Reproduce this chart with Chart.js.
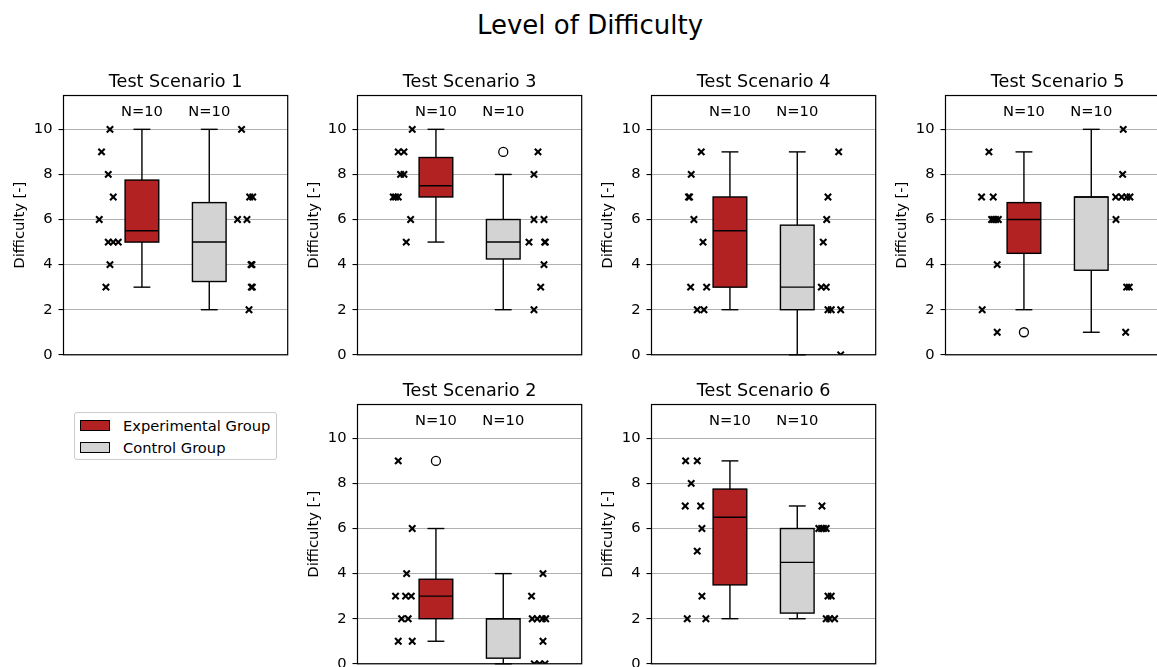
<!DOCTYPE html>
<html lang="en">
<head>
    <meta charset="UTF-8">
    <title>Level of Difficulty</title>
    <script src="https://cdn.jsdelivr.net/npm/chart.js"></script>
    <style>
        body { margin: 0; background: #fff; font-family: 'DejaVu Sans', sans-serif; color: #000; }
        #page { position: relative; width: 1157px; height: 667px; overflow: hidden; background: #fff; }
        #suptitle { position: absolute; left: 0; top: 12px; width: 1180px; text-align: center; font-size: 26px; line-height: 26px; }
        canvas.panel { position: absolute; }
        .legend { position: absolute; left: 74px; top: 412px; width: 203px; height: 48px; box-sizing: border-box;
                  border: 1px solid #cccccc; border-radius: 3px; background: #fff; }
        .legend .item { position: absolute; left: 0; height: 20px; line-height: 20px; font-size: 14.7px; white-space: nowrap; }
        .legend .patch { position: absolute; left: 5px; top: 4px; width: 30px; height: 11px; box-sizing: border-box; border: 1.2px solid #000; }
        .legend .label { position: absolute; left: 48px; top: 0; }
    </style>
</head>
<body>
<div id="page">
    <div id="suptitle">Level of Difficulty</div>

    <canvas class="panel" id="ts1" width="296" height="325" style="left:0px; top:45px"></canvas>
    <canvas class="panel" id="ts3" width="296" height="325" style="left:294px; top:45px"></canvas>
    <canvas class="panel" id="ts4" width="296" height="325" style="left:588px; top:45px"></canvas>
    <canvas class="panel" id="ts5" width="296" height="325" style="left:882px; top:45px"></canvas>
    <canvas class="panel" id="ts2" width="296" height="325" style="left:294px; top:354px"></canvas>
    <canvas class="panel" id="ts6" width="296" height="325" style="left:588px; top:354px"></canvas>

    <div class="legend">
        <div class="item" style="top:3px"><span class="patch" id="patchExp"></span><span class="label" id="labelExp"></span></div>
        <div class="item" style="top:24.5px"><span class="patch" id="patchCtrl"></span><span class="label" id="labelCtrl"></span></div>
    </div>
</div>

<script>
    // groups and axis ticks
    const groups = ['Experimental Group', 'Control Group'];
    const groupColors = ['#b22222', '#d3d3d3'];
    const boxPositions = [1, 2];
    const yTicks = [0, 2, 4, 6, 8, 10];

    // difficulty ratings per scenario, with the jittered x of each dot
    const ts1Exp = [10, 9, 8, 7, 6, 5, 5, 5, 4, 3];
    const ts1ExpX = [0.525, 0.40, 0.50, 0.574, 0.366, 0.50, 0.574, 0.648, 0.525, 0.465];
    const ts1Ctrl = [10, 7, 7, 6, 6, 4, 4, 3, 3, 2];
    const ts1CtrlX = [2.48, 2.60, 2.645, 2.42, 2.56, 2.62, 2.635, 2.625, 2.64, 2.59];

    const ts2Exp = [9, 6, 4, 3, 3, 3, 2, 2, 1, 1];
    const ts2ExpX = [0.44, 0.648, 0.565, 0.40, 0.55, 0.634, 0.49, 0.588, 0.44, 0.648];
    const ts2Ctrl = [4, 3, 2, 2, 2, 2, 1, 0, 0, 0];
    const ts2CtrlX = [2.59, 2.42, 2.43, 2.505, 2.58, 2.63, 2.59, 2.46, 2.54, 2.62];

    const ts3Exp = [10, 9, 9, 8, 8, 7, 7, 7, 6, 5];
    const ts3ExpX = [0.648, 0.44, 0.525, 0.475, 0.525, 0.366, 0.44, 0.40, 0.624, 0.559];
    const ts3Ctrl = [9, 8, 6, 6, 5, 5, 5, 4, 3, 2];
    const ts3CtrlX = [2.516, 2.456, 2.456, 2.605, 2.382, 2.615, 2.625, 2.605, 2.556, 2.456];

    const ts4Exp = [9, 8, 7, 7, 6, 5, 3, 3, 2, 2];
    const ts4ExpX = [0.574, 0.425, 0.385, 0.40, 0.465, 0.60, 0.416, 0.654, 0.514, 0.614];
    const ts4Ctrl = [9, 7, 6, 5, 3, 3, 2, 2, 2, 0];
    const ts4CtrlX = [2.615, 2.456, 2.437, 2.386, 2.357, 2.431, 2.456, 2.505, 2.645, 2.645];

    const ts5Exp = [9, 7, 7, 6, 6, 6, 6, 4, 2, 1];
    const ts5ExpX = [0.48, 0.371, 0.544, 0.52, 0.55, 0.58, 0.62, 0.603, 0.38, 0.603];
    const ts5Ctrl = [10, 8, 7, 7, 7, 7, 6, 3, 3, 1];
    const ts5CtrlX = [2.475, 2.466, 2.363, 2.452, 2.526, 2.575, 2.367, 2.526, 2.565, 2.511];

    const ts6Exp = [9, 9, 8, 7, 7, 6, 5, 3, 2, 2];
    const ts6ExpX = [0.342, 0.514, 0.425, 0.336, 0.565, 0.584, 0.514, 0.584, 0.366, 0.643];
    const ts6Ctrl = [7, 6, 6, 6, 6, 3, 3, 2, 2, 2];
    const ts6CtrlX = [2.367, 2.32, 2.36, 2.39, 2.43, 2.456, 2.505, 2.43, 2.48, 2.555];

    Chart.defaults.font.family = "'DejaVu Sans', sans-serif";
    Chart.defaults.color = '#000';

    const FONT = 14.7;
    const BOX_W = 0.5;

    // linear-interpolated quantile, same as numpy's default
    function quantile(sorted, q) {
        const p = (sorted.length - 1) * q;
        const lo = Math.floor(p), hi = Math.ceil(p);
        return sorted[lo] + (sorted[hi] - sorted[lo]) * (p - lo);
    }

    function boxStats(values) {
        const s = [...values].sort((a, b) => a - b);
        const q1 = quantile(s, 0.25), med = quantile(s, 0.5), q3 = quantile(s, 0.75);
        const iqr = q3 - q1;
        const lo = s.find(v => v >= q1 - 1.5 * iqr);
        const hi = [...s].reverse().find(v => v <= q3 + 1.5 * iqr);
        return { q1, med, q3, lo, hi, n: s.length, outliers: s.filter(v => v < lo || v > hi) };
    }

    // draws whiskers, caps, boxes and medians under the dots, and the frame + N labels on top
    const boxPlugin = {
        id: 'boxes',
        beforeDatasetsDraw(chart, args, opts) {
            const { ctx, scales: { x, y } } = chart;
            ctx.save();
            ctx.strokeStyle = '#000';
            ctx.lineWidth = 1.4;
            const line = (x1, y1, x2, y2) => { ctx.beginPath(); ctx.moveTo(x1, y1); ctx.lineTo(x2, y2); ctx.stroke(); };
            opts.groups.forEach(g => {
                const s = g.stats;
                const xc = x.getPixelForValue(g.pos);
                const xl = x.getPixelForValue(g.pos - BOX_W / 2);
                const xr = x.getPixelForValue(g.pos + BOX_W / 2);
                const cl = x.getPixelForValue(g.pos - BOX_W / 4);
                const cr = x.getPixelForValue(g.pos + BOX_W / 4);
                line(xc, y.getPixelForValue(s.lo), xc, y.getPixelForValue(s.q1));
                line(xc, y.getPixelForValue(s.q3), xc, y.getPixelForValue(s.hi));
                line(cl, y.getPixelForValue(s.lo), cr, y.getPixelForValue(s.lo));
                line(cl, y.getPixelForValue(s.hi), cr, y.getPixelForValue(s.hi));
                const top = y.getPixelForValue(s.q3), bot = y.getPixelForValue(s.q1);
                ctx.fillStyle = g.color;
                ctx.fillRect(xl, top, xr - xl, bot - top);
                ctx.strokeRect(xl, top, xr - xl, bot - top);
                line(xl, y.getPixelForValue(s.med), xr, y.getPixelForValue(s.med));
            });
            ctx.restore();
        },
        afterDraw(chart, args, opts) {
            const { ctx, chartArea: a, scales: { x, y } } = chart;
            ctx.save();
            ctx.strokeStyle = '#000';
            ctx.lineWidth = 1.2;
            ctx.strokeRect(a.left, a.top, a.right - a.left, a.bottom - a.top);
            ctx.fillStyle = '#000';
            ctx.font = FONT + "px 'DejaVu Sans'";
            ctx.textAlign = 'center';
            ctx.textBaseline = 'middle';
            opts.groups.forEach(g => {
                ctx.fillText('N=' + g.stats.n, x.getPixelForValue(g.pos), y.getPixelForValue(10.75));
            });
            ctx.restore();
        }
    };

    function dots(values, xs) {
        return values.map((v, i) => ({ x: xs[i], y: v }));
    }

    function makePanel(id, title, exp, expX, ctrl, ctrlX) {
        const stats = [boxStats(exp), boxStats(ctrl)];
        const outliers = [];
        stats.forEach((s, i) => s.outliers.forEach(v => outliers.push({ x: boxPositions[i], y: v })));

        const dotStyle = { pointStyle: 'crossRot', pointRadius: 4.5, pointBorderWidth: 2.1,
                           pointBorderColor: '#000', pointBackgroundColor: '#000', showLine: false, clip: 0 };

        new Chart(document.getElementById(id), {
            type: 'scatter',
            data: {
                datasets: [
                    Object.assign({ label: groups[0], data: dots(exp, expX) }, dotStyle),
                    Object.assign({ label: groups[1], data: dots(ctrl, ctrlX) }, dotStyle),
                    { label: 'outliers', data: outliers, pointStyle: 'circle', pointRadius: 4.5, pointBorderWidth: 1.3,
                      pointBorderColor: '#000', pointBackgroundColor: 'rgba(0,0,0,0)', clip: 0 }
                ]
            },
            options: {
                responsive: false,
                animation: false,
                events: [],
                layout: { padding: { left: 0, top: 0, right: 8.3, bottom: 15.2 } },
                plugins: {
                    legend: { display: false },
                    tooltip: { enabled: false },
                    title: {
                        display: true, text: title, color: '#000', fullSize: false,
                        font: { size: 17.6, weight: 'normal', lineHeight: 1.2 },
                        padding: { top: 26.6, bottom: 2.8 }
                    },
                    boxes: {
                        groups: stats.map((s, i) => ({ stats: s, pos: boxPositions[i], color: groupColors[i] }))
                    }
                },
                scales: {
                    x: { type: 'linear', min: -0.165, max: 3.165, display: false },
                    y: {
                        type: 'linear', min: 0, max: 11.5,
                        afterBuildTicks: scale => { scale.ticks = yTicks.map(v => ({ value: v })); },
                        afterFit: scale => { scale.width = 63.5; },
                        ticks: { font: { size: FONT }, color: '#000', padding: 6 },
                        grid: { color: '#b0b0b0', lineWidth: 1.1, tickLength: 5, tickColor: '#000', tickWidth: 1.1 },
                        border: { display: false },
                        title: { display: true, text: 'Difficulty [-]', color: '#000',
                                 font: { size: FONT, lineHeight: 1.2 }, padding: { top: 10.9, bottom: 0 } }
                    }
                }
            },
            plugins: [boxPlugin]
        });
    }

    makePanel('ts1', 'Test Scenario 1', ts1Exp, ts1ExpX, ts1Ctrl, ts1CtrlX);
    makePanel('ts3', 'Test Scenario 3', ts3Exp, ts3ExpX, ts3Ctrl, ts3CtrlX);
    makePanel('ts4', 'Test Scenario 4', ts4Exp, ts4ExpX, ts4Ctrl, ts4CtrlX);
    makePanel('ts5', 'Test Scenario 5', ts5Exp, ts5ExpX, ts5Ctrl, ts5CtrlX);
    makePanel('ts2', 'Test Scenario 2', ts2Exp, ts2ExpX, ts2Ctrl, ts2CtrlX);
    makePanel('ts6', 'Test Scenario 6', ts6Exp, ts6ExpX, ts6Ctrl, ts6CtrlX);

    // legend
    document.getElementById('patchExp').style.background = groupColors[0];
    document.getElementById('patchCtrl').style.background = groupColors[1];
    document.getElementById('labelExp').textContent = groups[0];
    document.getElementById('labelCtrl').textContent = groups[1];
</script>
</body>
</html>
